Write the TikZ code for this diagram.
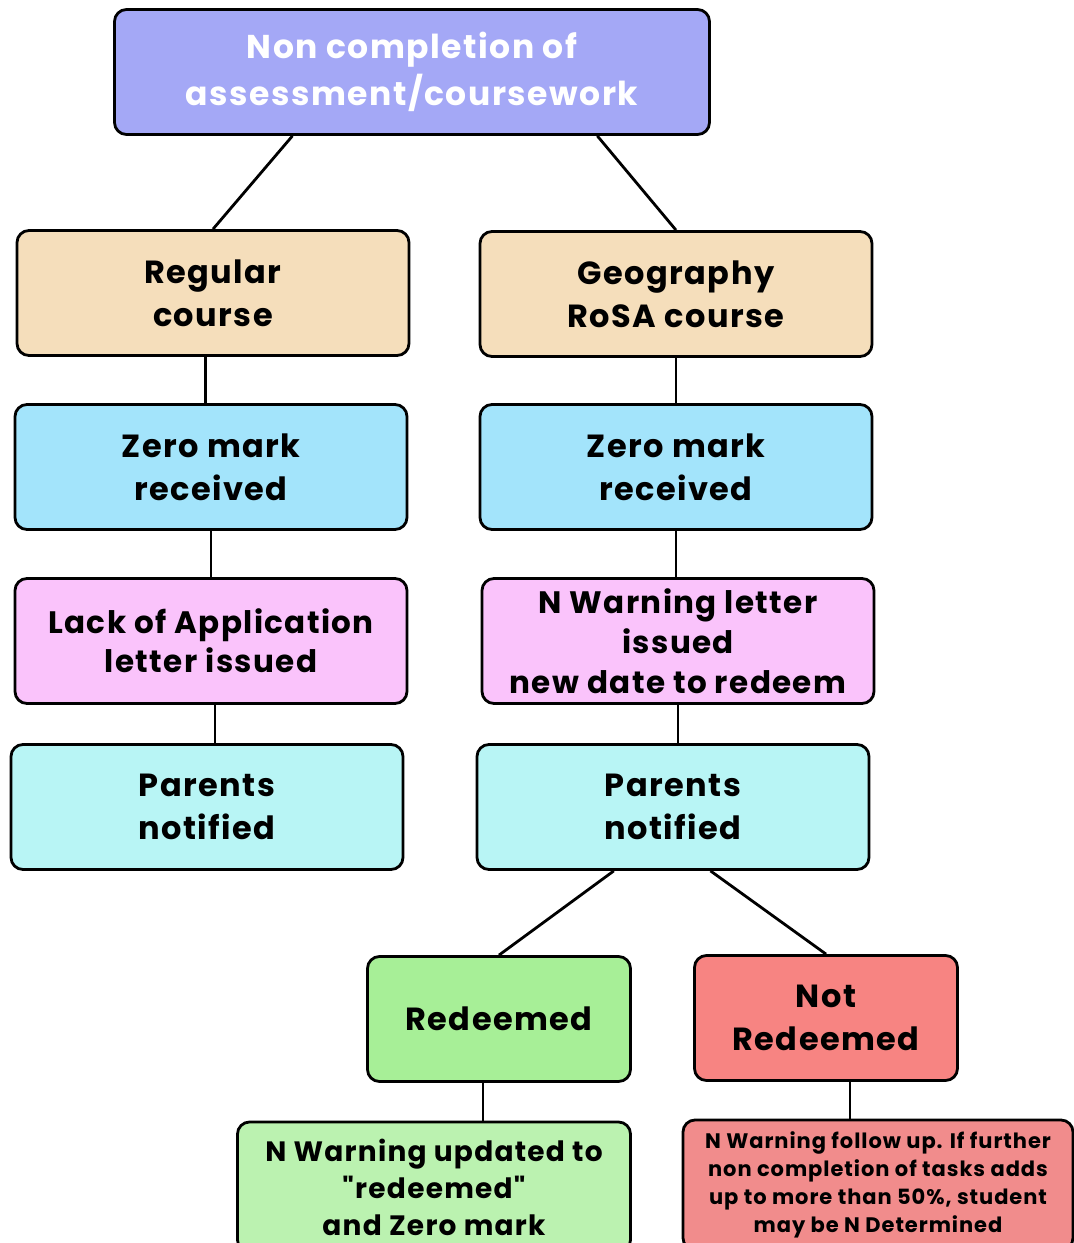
\documentclass[tikz,border=0pt]{standalone}
\usepackage{fontspec}
\setmainfont{Poppins}[LetterSpace=4.5, Ligatures=TeXOff]
\usepackage{tikz}
\usetikzlibrary{positioning,calc}
\definecolor{xviolet}{HTML}{A4A8F6}
\definecolor{xwheat}{HTML}{F5DEBB}
\definecolor{xblue}{HTML}{A3E4FB}
\definecolor{xpink}{HTML}{FAC3FB}
\definecolor{xcyan}{HTML}{B8F5F5}
\definecolor{xgreen}{HTML}{A7EF97}
\definecolor{xsalmon}{HTML}{F78482}
\definecolor{xlgreen}{HTML}{BBF2B0}
\definecolor{xred}{HTML}{F18C8C}

\begin{document}
\begin{tikzpicture}[
    x=1pt, y=-1pt,
    box/.style={rectangle, draw=black, line width=2.8pt, rounded corners=12pt, minimum height=125pt, minimum width=392pt, align=center, inner sep=0pt, font=\fontsize{32}{43}\selectfont\bfseries},
    smallbox/.style={box, font=\fontsize{21}{28}\selectfont\bfseries},
    link/.style={line width=2.8pt, black},
]
\useasboundingbox (0,0) rectangle (1074,1243);

% Top
\node[box, fill=xviolet, minimum width=595pt, text=white, font=\fontsize{33}{47}\selectfont\bfseries] (top) at (412,72) {Non completion of\\assessment/coursework};

% Regular course branch
\node[box, fill=xwheat] (regular) at (213,293) {Regular\\course};
\node[box, fill=xblue] (zeroL) at (211,467) {Zero mark\\received};
\node[box, fill=xpink, font=\fontsize{31}{39}\selectfont\bfseries] (lackL) at (211,641) {Lack of Application\\letter issued};
\node[box, fill=xcyan] (parentsL) at (207,807) {Parents\\notified};

% Geography RoSA branch
\node[box, fill=xwheat] (geog) at (676,294) {Geography\\RoSA course};
\node[box, fill=xblue] (zeroR) at (676,467) {Zero mark\\received};
\node[box, fill=xpink, font=\fontsize{31}{40}\selectfont\bfseries] (warnR) at (678,641) {N Warning letter\\issued\\new date to redeem};
\node[box, fill=xcyan] (parentsR) at (673,807) {Parents\\notified};

% Outcomes
\node[box, fill=xgreen, minimum width=263pt] (redeemed) at (499,1019) {Redeemed};
\node[box, fill=xsalmon, minimum width=263pt] (notred) at (826,1018) {Not\\Redeemed};
\node[box, fill=xlgreen, minimum width=393pt, minimum height=130pt, font=\fontsize{28}{37}\selectfont\bfseries] (updated) at (434,1187) {N Warning updated to\\"redeemed"\\and Zero mark};
\node[smallbox, fill=xred, minimum width=390pt, minimum height=130pt] (followup) at (878,1185) {N Warning follow up. If further\\non completion of tasks adds\\up to more than 50\%, student\\may be N Determined};

% Link anchors
\coordinate (t1) at ($(top.south west)!0.30!(top.south east)$);
\coordinate (t2) at ($(top.south west)!0.81!(top.south east)$);
\coordinate (r1) at ($(regular.south west)!0.48!(regular.south east)$);
\coordinate (l1) at ($(lackL.south west)!0.51!(lackL.south east)$);
\coordinate (p1) at ($(parentsR.south west)!0.35!(parentsR.south east)$);
\coordinate (p2) at ($(parentsR.south west)!0.595!(parentsR.south east)$);
\coordinate (d1) at ($(redeemed.south west)!0.44!(redeemed.south east)$);
\coordinate (n1) at ($(notred.south west)!0.59!(notred.south east)$);

% Links
\draw[link] (t1) -- (regular.north);
\draw[link] (t2) -- (geog.north);
\draw[link] (r1) -- (r1 |- zeroL.north);
\draw[link] (geog.south) -- (geog.south |- zeroR.north);
\draw[link] (zeroL.south) -- (lackL.north);
\draw[link] (zeroR.south) -- (zeroR.south |- warnR.north);
\draw[link] (l1) -- (l1 |- parentsL.north);
\draw[link] (warnR.south) -- (warnR.south |- parentsR.north);
\draw[link] (p1) -- (redeemed.north);
\draw[link] (p2) -- (notred.north);
\draw[link] (d1) -- (d1 |- updated.north);
\draw[link] (n1) -- (n1 |- followup.north);
\end{tikzpicture}
\end{document}
